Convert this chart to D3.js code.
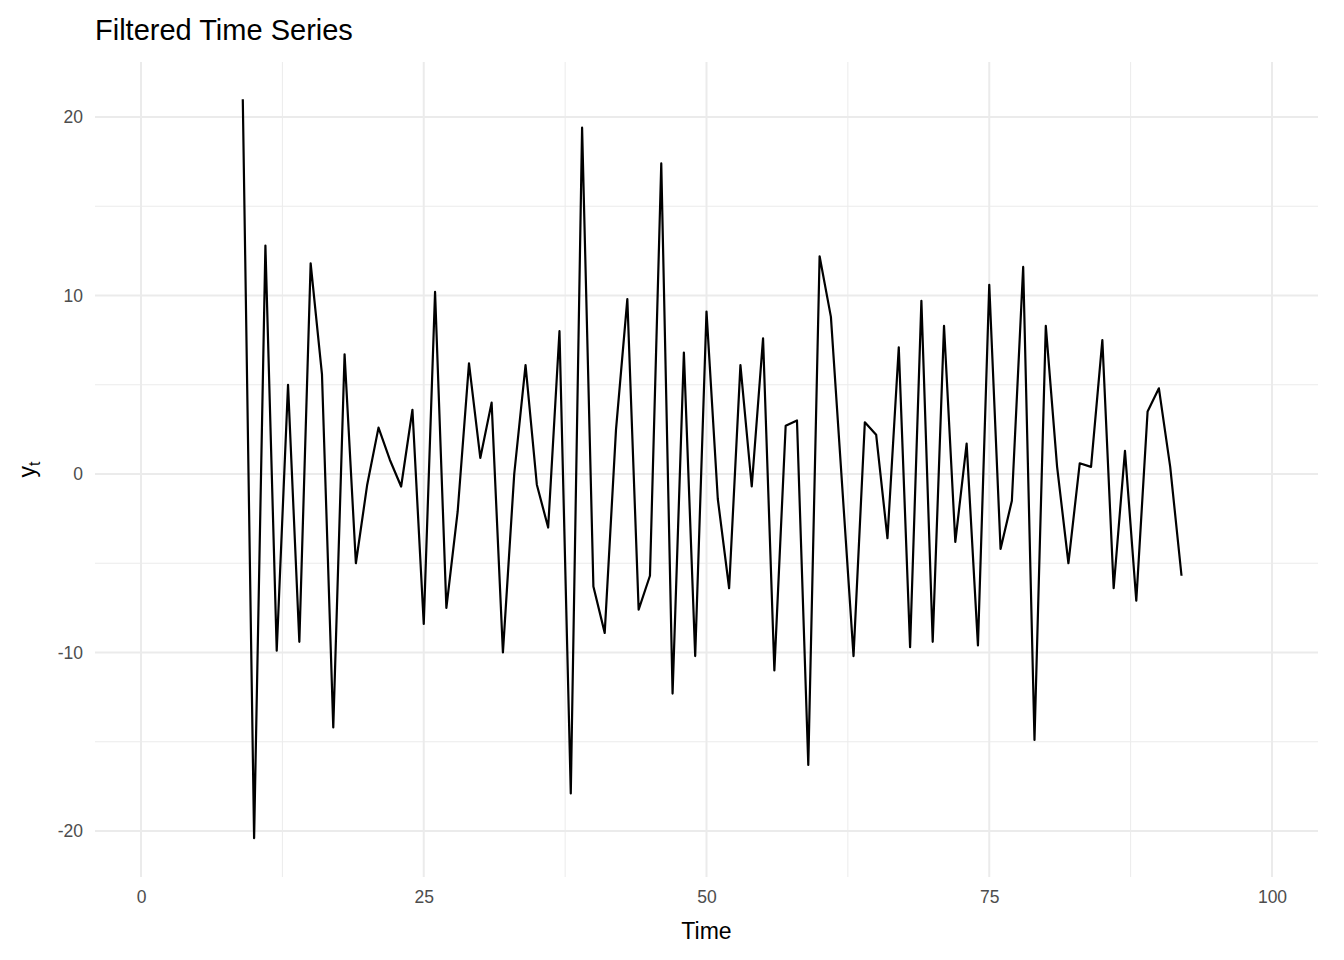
<!DOCTYPE html>
<html>
<head>
<meta charset="utf-8">
<script src="https://cdn.jsdelivr.net/npm/d3@7"></script>
<style>
  body { margin: 0; background: #fff; }
  text { font-family: "Liberation Sans", Arial, sans-serif; }
</style>
</head>
<body>
<svg width="1344" height="960"></svg>
<script>
const svg = d3.select('svg');

const timeStart = 9;
const values = [
  21.0, -20.4, 12.8, -9.9, 5.0, -9.4, 11.8, 5.6, -14.2, 6.7,
  -5.0, -0.6, 2.6, 0.8, -0.7, 3.6, -8.4, 10.2, -7.5, -2.1,
  6.2, 0.9, 4.0, -10.0, 0.0, 6.1, -0.6, -3.0, 8.0, -17.9,
  19.4, -6.3, -8.9, 2.5, 9.8, -7.6, -5.7, 17.4, -12.3, 6.8,
  -10.2, 9.1, -1.4, -6.4, 6.1, -0.7, 7.6, -11.0, 2.7, 3.0,
  -16.3, 12.2, 8.8, -0.7, -10.2, 2.9, 2.2, -3.6, 7.1, -9.7,
  9.7, -9.4, 8.3, -3.8, 1.7, -9.6, 10.6, -4.2, -1.5, 11.6,
  -14.9, 8.3, 0.4, -5.0, 0.6, 0.4, 7.5, -6.4, 1.3, -7.1,
  3.5, 4.8, 0.4, -5.7
];
const xTicks = [0, 25, 50, 75, 100];
const xMinor = [12.5, 37.5, 62.5, 87.5];
const yTicks = [-20, -10, 0, 10, 20];
const yMinor = [-15, -5, 5, 15];

const data = values.map((v, i) => ({t: timeStart + i, y: v}));

const panel = {left: 95, right: 1318, top: 62, bottom: 877};

const x = d3.scaleLinear().domain([0, 100]).range([141, 1272]);
const y = d3.scaleLinear().domain([-20, 20]).range([831, 117]);

const grid = svg.append('g');
grid.selectAll('.xm').data(xMinor).enter().append('line')
  .attr('x1', d => x(d)).attr('x2', d => x(d))
  .attr('y1', panel.top).attr('y2', panel.bottom)
  .attr('stroke', '#ebebeb').attr('stroke-width', 1);
grid.selectAll('.ym').data(yMinor).enter().append('line')
  .attr('y1', d => y(d)).attr('y2', d => y(d))
  .attr('x1', panel.left).attr('x2', panel.right)
  .attr('stroke', '#ebebeb').attr('stroke-width', 1);
grid.selectAll('.xM').data(xTicks).enter().append('line')
  .attr('x1', d => x(d)).attr('x2', d => x(d))
  .attr('y1', panel.top).attr('y2', panel.bottom)
  .attr('stroke', '#ebebeb').attr('stroke-width', 2);
grid.selectAll('.yM').data(yTicks).enter().append('line')
  .attr('y1', d => y(d)).attr('y2', d => y(d))
  .attr('x1', panel.left).attr('x2', panel.right)
  .attr('stroke', '#ebebeb').attr('stroke-width', 2);

// ggplot uses a plain hyphen for negatives
const fmt = d => String(d);

const xAxis = svg.append('g')
  .attr('transform', `translate(0, ${panel.bottom})`)
  .call(d3.axisBottom(x).tickValues(xTicks).tickFormat(fmt).tickSize(0).tickPadding(14));
const yAxis = svg.append('g')
  .attr('transform', `translate(${panel.left - 12}, 0)`)
  .call(d3.axisLeft(y).tickValues(yTicks).tickFormat(fmt).tickSize(0).tickPadding(0));
[xAxis, yAxis].forEach(a => {
  a.select('.domain').remove();
  a.selectAll('text').attr('fill', '#4d4d4d').style('font-size', '17.5px')
    .style('font-family', '"Liberation Sans", Arial, sans-serif');
});

const line = d3.line().x(d => x(d.t)).y(d => y(d.y));
svg.append('path').datum(data)
  .attr('d', line)
  .attr('fill', 'none')
  .attr('stroke', '#000')
  .attr('stroke-width', 2.2)
  .attr('stroke-linejoin', 'round');

svg.append('text')
  .attr('x', 95).attr('y', 40)
  .style('font-size', '29px')
  .text('Filtered Time Series');

svg.append('text')
  .attr('x', (panel.left + panel.right) / 2).attr('y', 939)
  .attr('text-anchor', 'middle')
  .style('font-size', '23px')
  .text('Time');

const yl = svg.append('text')
  .attr('transform', `translate(35, ${(panel.top + panel.bottom) / 2}) rotate(-90)`)
  .attr('text-anchor', 'middle')
  .style('font-size', '23px');
yl.append('tspan').text('y');
yl.append('tspan').attr('dy', 5).style('font-size', '16px').text('t');
</script>
</body>
</html>
